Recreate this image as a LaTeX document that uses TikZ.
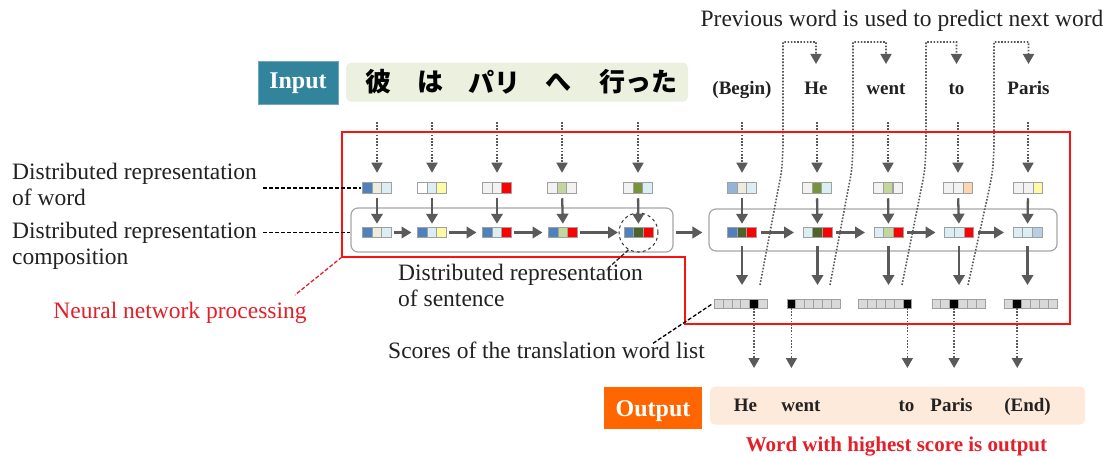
\documentclass[tikz,border=0pt]{standalone}
\usepackage{fontspec}
\setmainfont{Liberation Serif}
\newfontfamily\cjk{Noto Sans CJK JP}
\usetikzlibrary{arrows.meta,fit}

\definecolor{txt}{HTML}{222222}
\definecolor{arrgray}{HTML}{5A5A5A}
\definecolor{cellbd}{HTML}{A0A0A0}
\definecolor{boxgray}{HTML}{A6A6A6}
\definecolor{scgray}{HTML}{D9D9D9}
\definecolor{cblue}{HTML}{4F81BD}
\definecolor{cbluel}{HTML}{95B3D7}
\definecolor{cbeige}{HTML}{EEECE1}
\definecolor{cltblue}{HTML}{DAEEF3}
\definecolor{cyellow}{HTML}{FFFAA5}
\definecolor{cgray}{HTML}{F2F2F2}
\definecolor{cred}{HTML}{FF0000}
\definecolor{cltgreen}{HTML}{C3D69B}
\definecolor{colive}{HTML}{77933C}
\definecolor{cdkolive}{HTML}{4F6228}
\definecolor{cpeach}{HTML}{FCD5B5}
\definecolor{clav}{HTML}{B9CDE5}
\definecolor{cteal}{HTML}{31849B}
\definecolor{cjbox}{HTML}{EBF1DE}
\definecolor{corange}{HTML}{FF6600}
\definecolor{cpeachbox}{HTML}{FDEADA}
\definecolor{redline}{HTML}{FF1010}
\definecolor{redtxt}{HTML}{E3202A}

\newcommand{\lblfont}{\fontsize{23.5}{25.5}\selectfont}

\tikzset{
  cell/.style={draw=cellbd, line width=0.7pt, minimum width=9.67pt, minimum height=10.5pt, inner sep=0pt, outer sep=0pt},
  scell/.style={draw=cellbd, line width=0.7pt, fill=scgray, minimum width=8.83pt, minimum height=9pt, inner sep=0pt, outer sep=0pt},
  arr/.style={draw=arrgray, line width=2.3pt, -{Triangle[width=11.5pt,length=10pt]}},
  dotarr/.style={draw=arrgray, line width=1.6pt, dash pattern=on 1.6pt off 1.6pt, -{Triangle[width=11pt,length=10pt]}},
  lbl/.style={font=\lblfont, text=txt, inner sep=0pt, align=left},
  ew/.style={font=\fontsize{19}{21}\selectfont\bfseries, text=txt, inner sep=0pt},
  jw/.style={font=\fontsize{26}{28}\selectfont\cjk\bfseries, text=black, inner sep=0pt},
  compbox/.style={draw=boxgray, line width=1.2pt, rounded corners=7pt},
  lblline/.style={draw=black, line width=1.5pt, dash pattern=on 4pt off 2pt},
}

% word / composition vector: name, x, y, c1, c2, c3
\newcommand{\wvec}[6]{%
  \node[cell, fill=#5] (#1-2) at (#2,#3) {};
  \node[cell, fill=#4, anchor=east] (#1-1) at (#1-2.west) {};
  \node[cell, fill=#6, anchor=west] (#1-3) at (#1-2.east) {};
  \node[fit=(#1-1)(#1-3), inner sep=0pt, outer sep=0pt] (#1) {};
}
% score vector: name, x, y, index of black cell
\newcommand{\svec}[4]{%
  \node[scell, anchor=west] (#1-1) at (#2-26.5,#3) {};
  \foreach \i [count=\j from 2] in {1,...,5} {\node[scell, anchor=west] (#1-\j) at (#1-\i.east) {};}
  \node[scell, fill=black] at (#1-#4) {};
  \node[fit=(#1-1)(#1-6), inner sep=0pt, outer sep=0pt] (#1) {};
}
% feedback dotted connector: bottom x, vertical x, tip node
\newcommand{\fb}[3]{%
  \draw[dotarr] (#1,285) -- (#2-5,190) .. controls (#2-1,170) .. (#2,145) -- (#2,42) -| (#3 |- ftip);
}

\begin{document}
\begin{tikzpicture}[x=1pt,y=-1pt]
\useasboundingbox (0,0) rectangle (1115,457);
\fill[white] (0,0) rectangle (1115,457);

\coordinate (dtop) at (0,122);
\coordinate (ftip) at (0,64);
\coordinate (otip) at (0,368);

% top texts
\node[lbl, anchor=base] (prev) at (902,26.5) {Previous word is used to predict next word};

\node[fill=cteal, draw=cteal!70, minimum width=80pt, minimum height=43pt, inner sep=0pt] (inp) at (298,82.5) {};
\node[text=white, font=\fontsize{24}{26}\selectfont\bfseries, inner sep=0pt, anchor=base] at (298,89) {Input};
\node[fill=cjbox, rounded corners=5pt, minimum width=342pt, minimum height=39pt, inner sep=0pt] (jp) at (517,82.2) {};
\node[jw] (j1) at (378.5,82) {彼};
\node[jw] (j2) at (430,82) {は};
\node[jw] (j3) at (494,82) {パリ};
\node[jw] (j4) at (558.5,82) {へ};
\node[jw] (j5) at (638.5,82) {行った};

\node[ew, anchor=base] (e0) at (742,95) {(Begin)};
\node[ew, anchor=base] (e1) at (816,95) {He};
\node[ew, anchor=base] (e2) at (886,95) {went};
\node[ew, anchor=base] (e3) at (956.5,95) {to};
\node[ew, anchor=base] (e4) at (1028.5,95) {Paris};

% composition boxes
\node[compbox, minimum width=322pt, minimum height=44pt, inner sep=0pt] (lbox) at (512,230) {};
\node[compbox, minimum width=348pt, minimum height=42pt, inner sep=0pt] (rbox) at (883,230) {};

% vectors
\wvec{wL1}{377}{188}{cblue}{cbeige}{cltblue}
\wvec{wL2}{432}{188}{white}{cltblue}{cyellow}
\wvec{wL3}{497}{188}{cgray}{cgray}{cred}
\wvec{wL4}{562}{188}{cgray}{cltgreen}{cgray}
\wvec{wL5}{638}{188}{cgray}{colive}{cltblue}

\wvec{cL1}{377}{232.5}{cblue}{cbeige}{cltblue}
\wvec{cL2}{432}{232.5}{cblue}{cltblue}{cyellow}
\wvec{cL3}{497}{232.5}{cblue}{cltblue}{cred}
\wvec{cL4}{563}{232.5}{cblue}{cltgreen}{cred}
\wvec{cL5}{638.5}{232.5}{cblue}{cdkolive}{cred}

\wvec{wR1}{742}{188}{cbluel}{cbeige}{cltblue}
\wvec{wR2}{817}{188}{cgray}{colive}{cltblue}
\wvec{wR3}{888}{188}{cgray}{cltgreen}{cgray}
\wvec{wR4}{958}{188}{cgray}{cgray}{cpeach}
\wvec{wR5}{1028}{188}{cgray}{cgray}{cyellow}

\wvec{cR1}{742}{232.5}{cblue}{cdkolive}{cred}
\wvec{cR2}{817.5}{232.5}{cltblue}{cdkolive}{cred}
\wvec{cR3}{888.5}{232.5}{cltblue}{cltgreen}{cred}
\wvec{cR4}{959}{232.5}{cltblue}{cltblue}{cred}
\wvec{cR5}{1027.5}{232.5}{cltblue}{cltblue}{clav}

\svec{s1}{740.8}{303.5}{5}
\svec{s2}{813.5}{303.5}{1}
\svec{s3}{885.3}{303.5}{6}
\svec{s4}{958.5}{303.5}{3}
\svec{s5}{1030.5}{303.5}{2}

% circle around sentence vector
\node[draw=black!80, dashed, circle, minimum size=39pt, line width=1pt, inner sep=0pt] (circ) at (cL5) {};

% input dotted arrows
\foreach \n in {wL1,wL2,wL3,wL4,wL5,wR1,wR2,wR3,wR4,wR5}
  \draw[dotarr, shorten >=10pt] (\n.north |- dtop) -- (\n.north);

% word -> composition
\foreach \n/\m in {wL1/cL1,wL2/cL2,wL3/cL3,wL4/cL4,wL5/cL5,wR1/cR1,wR2/cR2,wR3/cR3,wR4/cR4,wR5/cR5}
  \draw[arr, shorten <=5pt, shorten >=3.5pt] (\n.south) -- (\m.north);

% composition chain
\foreach \n/\m in {cL1/cL2,cL2/cL3,cL3/cL4,cL4/cL5}
  \draw[arr, shorten <=2pt, shorten >=6pt] (\n.east) -- (\m.west);
\draw[arr, shorten <=2pt, shorten >=6pt] (lbox.east |- cL5) -- (rbox.west |- cL5);
\foreach \n/\m in {cR1/cR2,cR2/cR3,cR3/cR4,cR4/cR5}
  \draw[arr, shorten <=4pt, shorten >=9pt] (\n.east) -- (\m.west);

% composition -> scores
\foreach \n/\m in {cR1/s1,cR2/s2,cR3/s3,cR4/s4,cR5/s5}
  \draw[arr, shorten <=8.5pt, shorten >=14pt] (\n.south) -- (\n.south |- \m.north);

% scores -> output
\foreach \n in {s1-5,s2-1,s3-6,s4-3,s5-2}
  \draw[dotarr] (\n.south) -- (\n.south |- otip);

% feedback connectors
\fb{760}{783}{e1}
\fb{830}{853}{e2}
\fb{902}{926}{e3}
\fb{968}{994}{e4}

% red region
\coordinate (rc) at (342,257);
\draw[redline, line width=2pt, line join=miter] (342,132) -- (1070,132) -- (1070,324) -- (685,324) -- (685,257) -- (rc) -- cycle;

% labels
\node[lbl, anchor=base west] (lab1) at (12,205) {Distributed representation\\of word};
\node[lbl, anchor=base west] (lab2) at (12,264) {Distributed representation\\composition};
\draw[lblline, shorten <=6pt, shorten >=2pt] (lab1.east |- wL1.west) -- (wL1.west);
\draw[lblline, shorten <=6pt] (lab2.east |- cL1.west) -- (lbox.west |- cL1.west);

\node[lbl, anchor=base west] (sent) at (398,306) {Distributed representation\\of sentence};
\coordinate (sentc) at (606,270);
\draw[draw=black!85, line width=1.3pt, dash pattern=on 4pt off 2pt] (circ.240) -- (sentc);

\node[lbl, anchor=base] (score) at (546.5,358.5) {Scores of the translation word list};
\coordinate (scorec) at (652,344);
\draw[lblline, line width=1.3pt] (s1.west) ++(-3,1) coordinate (s1w) -- (scorec);

\node[lbl, anchor=base, text=redtxt] (nn) at (180,318) {Neural network processing};
\coordinate (nnc) at (295,295);
\draw[redtxt, line width=1.3pt, dash pattern=on 4pt off 2pt] (rc) -- (nnc);

% output
\node[fill=corange, minimum width=98pt, minimum height=42pt, inner sep=0pt] (outp) at (653,408) {};
\node[text=white, font=\fontsize{24}{26}\selectfont\bfseries, inner sep=0pt, anchor=base] at (653,416) {Output};
\node[fill=cpeachbox, rounded corners=5pt, minimum width=375pt, minimum height=38pt, inner sep=0pt] (obox) at (897.5,405.5) {};
\node[ew, anchor=base] (o1) at (745.5,411.5) {He};
\node[ew, anchor=base] (o2) at (801,411.5) {went};
\node[ew, anchor=base] (o3) at (906.5,411.5) {to};
\node[ew, anchor=base] (o4) at (951.5,411.5) {Paris};
\node[ew, anchor=base] (o5) at (1027.5,411.5) {(End)};
\node[font=\fontsize{21}{23}\selectfont\bfseries, text=redtxt, inner sep=0pt, anchor=base] (hs) at (896.5,451) {Word with highest score is output};
\end{tikzpicture}
\end{document}
